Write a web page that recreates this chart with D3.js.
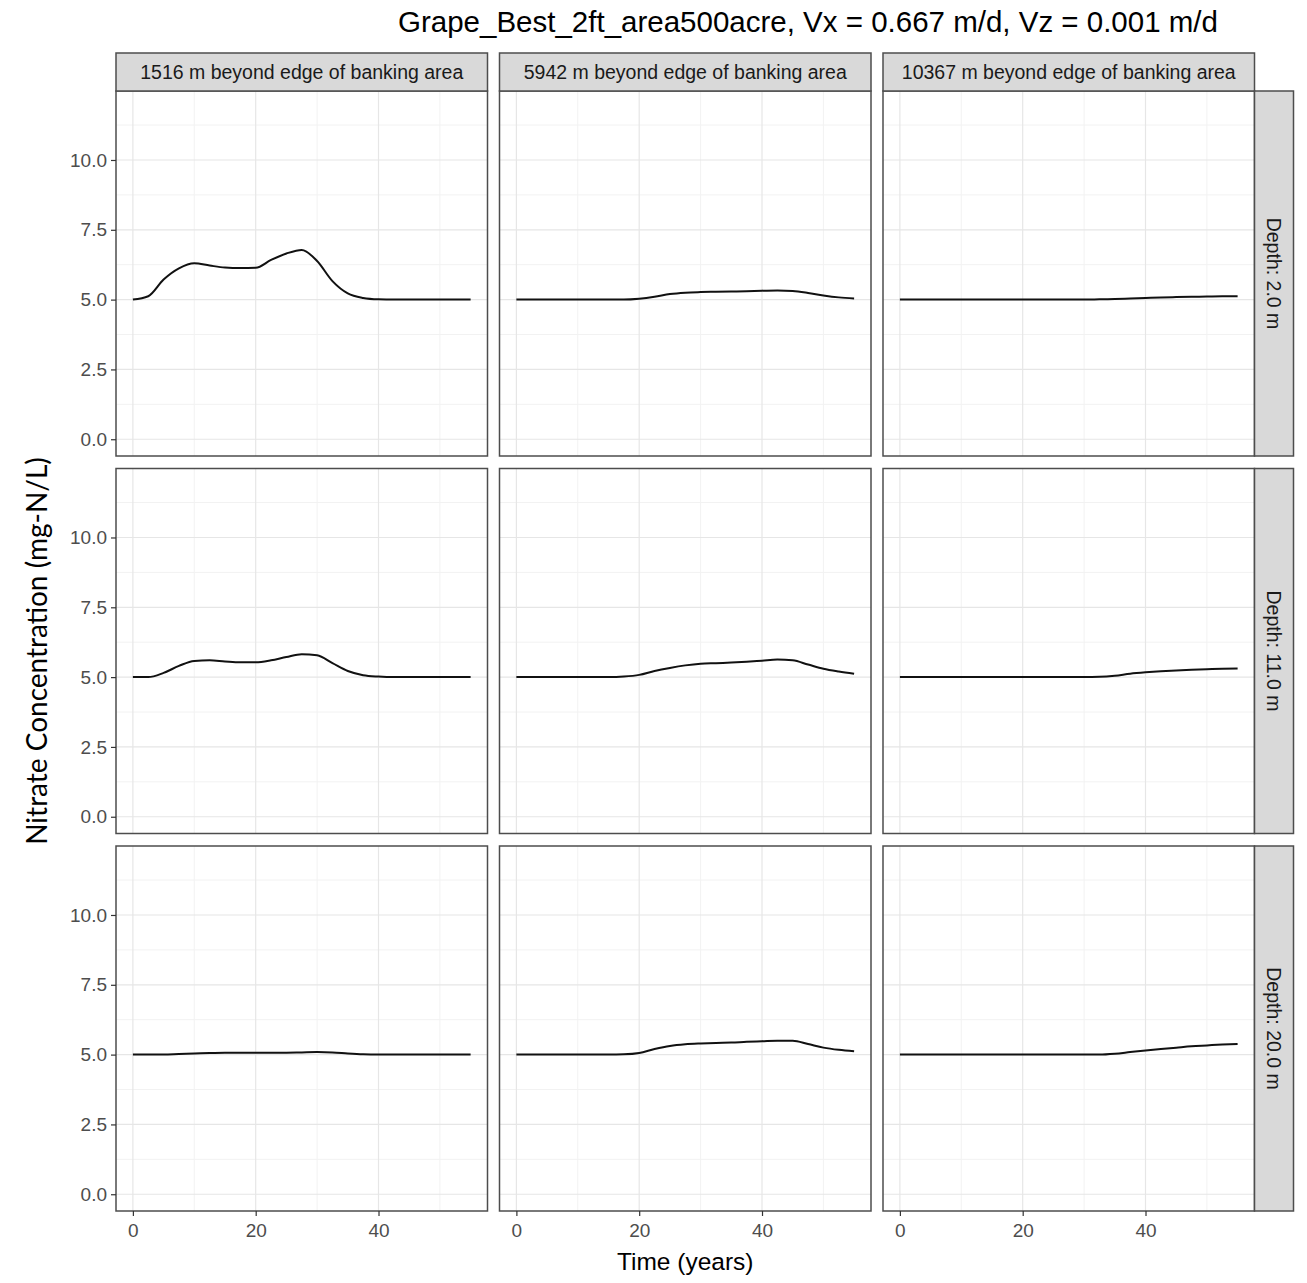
<!DOCTYPE html>
<html>
<head>
<meta charset="UTF-8" />
<title>nitrate facets</title>
<style>
    body { margin: 0; padding: 0; background: #fff; }
    svg { display: block; font-family: 'Liberation Sans', Arial, sans-serif; }
</style>
</head>
<body>
<div class="container"></div>
<script src="https://cdnjs.cloudflare.com/ajax/libs/d3/7.8.5/d3.min.js"></script>
<script>
    // facet labels
    const distances = ['1516 m beyond edge of banking area', '5942 m beyond edge of banking area', '10367 m beyond edge of banking area']
    const depths = ['Depth: 2.0 m', 'Depth: 11.0 m', 'Depth: 20.0 m']

    const years = [0, 2.5, 5, 7.5, 10, 12.5, 15, 17.5, 20, 22.5, 25, 27.5, 30, 32.5, 35, 37.5, 40, 42.5, 45, 47.5, 50, 52.5, 55]

    // concentration (mg-N/L), row = depth, col = distance
    const d2_1516 = [5.0, 5.12, 5.72, 6.12, 6.3, 6.22, 6.15, 6.13, 6.14, 6.42, 6.65, 6.78, 6.38, 5.66, 5.22, 5.06, 5.01, 5.0, 5.0, 5.0, 5.0, 5.0, 5.0]
    const d2_5942 = [5.0, 5.0, 5.0, 5.0, 5.0, 5.0, 5.0, 5.0, 5.03, 5.1, 5.2, 5.25, 5.27, 5.28, 5.29, 5.3, 5.32, 5.33, 5.31, 5.24, 5.15, 5.08, 5.04]
    const d2_10367 = [5.0, 5.0, 5.0, 5.0, 5.0, 5.0, 5.0, 5.0, 5.0, 5.0, 5.0, 5.0, 5.0, 5.01, 5.02, 5.04, 5.06, 5.08, 5.09, 5.1, 5.11, 5.12, 5.12]
    const d11_1516 = [5.0, 5.0, 5.15, 5.4, 5.58, 5.6, 5.56, 5.53, 5.53, 5.6, 5.72, 5.82, 5.78, 5.5, 5.22, 5.07, 5.02, 5.0, 5.0, 5.0, 5.0, 5.0, 5.0]
    const d11_5942 = [5.0, 5.0, 5.0, 5.0, 5.0, 5.0, 5.0, 5.02, 5.08, 5.22, 5.33, 5.42, 5.48, 5.5, 5.52, 5.55, 5.59, 5.63, 5.6, 5.45, 5.3, 5.2, 5.12]
    const d11_10367 = [5.0, 5.0, 5.0, 5.0, 5.0, 5.0, 5.0, 5.0, 5.0, 5.0, 5.0, 5.0, 5.0, 5.01, 5.05, 5.12, 5.17, 5.21, 5.24, 5.26, 5.28, 5.3, 5.31]
    const d20_1516 = [5.0, 5.0, 5.0, 5.02, 5.04, 5.06, 5.07, 5.07, 5.07, 5.07, 5.07, 5.08, 5.09, 5.08, 5.04, 5.01, 5.0, 5.0, 5.0, 5.0, 5.0, 5.0, 5.0]
    const d20_5942 = [5.0, 5.0, 5.0, 5.0, 5.0, 5.0, 5.0, 5.01, 5.06, 5.2, 5.31, 5.37, 5.4, 5.42, 5.43, 5.46, 5.48, 5.5, 5.5, 5.38, 5.25, 5.17, 5.12]
    const d20_10367 = [5.0, 5.0, 5.0, 5.0, 5.0, 5.0, 5.0, 5.0, 5.0, 5.0, 5.0, 5.0, 5.0, 5.0, 5.03, 5.09, 5.15, 5.2, 5.25, 5.3, 5.33, 5.36, 5.38]

    const series = [
        [d2_1516, d2_5942, d2_10367],
        [d11_1516, d11_5942, d11_10367],
        [d20_1516, d20_5942, d20_10367]
    ]

    const xTicks = [0, 20, 40]
    const xMinor = [10, 30, 50]
    const yTicks = [0, 2.5, 5, 7.5, 10]
    const yMinor = [1.25, 3.75, 6.25, 8.75, 11.25]

    const width = 1307, height = 1283
    const panelLeft = 116, panelTop = 91
    const pw = 371.5, ph = 365, gapX = 12, gapY = 12.5
    const stripH = 38, stripW = 39

    const svg = d3.select('.container').append('svg')
        .attr('width', width)
        .attr('height', height)

    const x = d3.scaleLinear().domain([-2.75, 57.75]).range([0, pw])
    const y = d3.scaleLinear().domain([-0.6, 12.47]).range([ph, 0])

    const line = d3.line()
        .x((d, i) => x(years[i]))
        .y(d => y(d))
        .curve(d3.curveMonotoneX)

    // title
    svg.append('text')
        .attr('x', 808).attr('y', 32)
        .attr('text-anchor', 'middle')
        .attr('font-size', 29.5)
        .attr('fill', '#000')
        .text('Grape_Best_2ft_area500acre, Vx = 0.667 m/d, Vz = 0.001 m/d')

    series.forEach((row, r) => {
        row.forEach((vals, c) => {
            const px = panelLeft + c * (pw + gapX)
            const py = panelTop + r * (ph + gapY)
            const g = svg.append('g').attr('transform', `translate(${px},${py})`)

            g.append('rect').attr('width', pw).attr('height', ph).attr('fill', '#fff')

            g.selectAll('.ymin').data(yMinor).join('line')
                .attr('x1', 0).attr('x2', pw)
                .attr('y1', d => y(d)).attr('y2', d => y(d))
                .attr('stroke', '#f2f2f2').attr('stroke-width', 1)
            g.selectAll('.xmin').data(xMinor).join('line')
                .attr('y1', 0).attr('y2', ph)
                .attr('x1', d => x(d)).attr('x2', d => x(d))
                .attr('stroke', '#f2f2f2').attr('stroke-width', 1)
            g.selectAll('.ymaj').data(yTicks).join('line')
                .attr('x1', 0).attr('x2', pw)
                .attr('y1', d => y(d)).attr('y2', d => y(d))
                .attr('stroke', '#e6e6e6').attr('stroke-width', 1.2)
            g.selectAll('.xmaj').data(xTicks).join('line')
                .attr('y1', 0).attr('y2', ph)
                .attr('x1', d => x(d)).attr('x2', d => x(d))
                .attr('stroke', '#e6e6e6').attr('stroke-width', 1.2)

            g.append('path')
                .datum(vals)
                .attr('d', line)
                .attr('fill', 'none')
                .attr('stroke', '#111')
                .attr('stroke-width', 2)

            g.append('rect').attr('width', pw).attr('height', ph)
                .attr('fill', 'none').attr('stroke', '#4d4d4d').attr('stroke-width', 1.5)

            // y axis on first column
            if (c === 0) {
                const ya = g.append('g')
                    .call(d3.axisLeft(y).tickValues(yTicks).tickFormat(d3.format('.1f')).tickSize(5).tickPadding(4))
                ya.select('.domain').remove()
                ya.selectAll('line').attr('stroke', '#333').attr('stroke-width', 1.2)
                ya.selectAll('text').attr('font-size', 19).attr('fill', '#4d4d4d')
                    .attr('font-family', "'Liberation Sans', Arial, sans-serif")
            }
            // x axis on bottom row
            if (r === 2) {
                const xa = g.append('g').attr('transform', `translate(0,${ph})`)
                    .call(d3.axisBottom(x).tickValues(xTicks).tickSize(5).tickPadding(8))
                xa.select('.domain').remove()
                xa.selectAll('line').attr('stroke', '#333').attr('stroke-width', 1.2)
                xa.selectAll('text').attr('font-size', 19).attr('fill', '#4d4d4d')
                    .attr('font-family', "'Liberation Sans', Arial, sans-serif")
            }
        })
    })

    // top strips
    distances.forEach((lab, c) => {
        const px = panelLeft + c * (pw + gapX)
        const g = svg.append('g').attr('transform', `translate(${px},${panelTop - stripH})`)
        g.append('rect').attr('width', pw).attr('height', stripH)
            .attr('fill', '#d9d9d9').attr('stroke', '#4d4d4d').attr('stroke-width', 1.5)
        g.append('text')
            .attr('x', pw / 2).attr('y', stripH / 2 + 7)
            .attr('text-anchor', 'middle')
            .attr('font-size', 19.5)
            .attr('fill', '#1a1a1a')
            .text(lab)
    })

    // right strips
    depths.forEach((lab, r) => {
        const px = panelLeft + 3 * pw + 2 * gapX
        const py = panelTop + r * (ph + gapY)
        const g = svg.append('g').attr('transform', `translate(${px},${py})`)
        g.append('rect').attr('width', stripW).attr('height', ph)
            .attr('fill', '#d9d9d9').attr('stroke', '#4d4d4d').attr('stroke-width', 1.5)
        g.append('text')
            .attr('transform', `translate(${stripW / 2 - 7},${ph / 2}) rotate(90)`)
            .attr('text-anchor', 'middle')
            .attr('font-size', 19.5)
            .attr('fill', '#1a1a1a')
            .text(lab)
    })

    // axis titles
    svg.append('text')
        .attr('x', panelLeft + (3 * pw + 2 * gapX) / 2).attr('y', 1270)
        .attr('text-anchor', 'middle')
        .attr('font-size', 24.5)
        .attr('fill', '#000')
        .text('Time (years)')

    svg.append('text')
        .attr('transform', `translate(47,${panelTop + (3 * ph + 2 * gapY) / 2}) rotate(-90)`)
        .attr('text-anchor', 'middle')
        .attr('font-size', 28)
        .attr('font-family', 'Lato, sans-serif')
        .attr('fill', '#000')
        .text('Nitrate Concentration (mg-N/L)')
</script>
</body>
</html>
